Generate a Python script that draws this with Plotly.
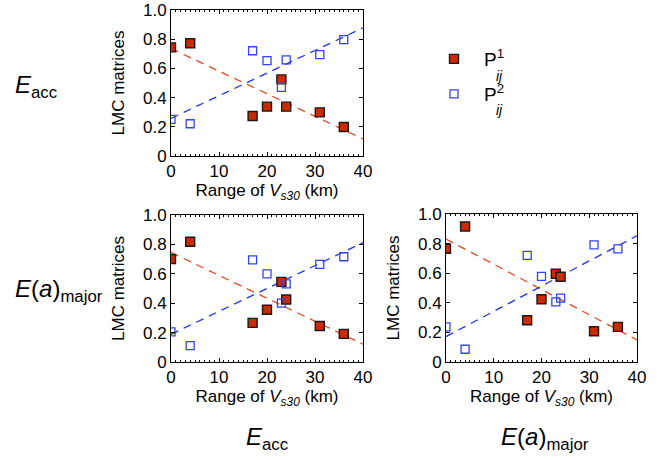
import numpy as np
import plotly.graph_objects as go

# ---- data ----
x_vals = [0, 4, 17, 20, 23, 24, 31, 36]

# top-left: E_acc
p1_tl = [0.744, 0.772, 0.274, 0.338, 0.525, 0.338, 0.299, 0.199]
p2_tl = [0.251, 0.221, 0.721, 0.653, 0.470, 0.658, 0.694, 0.797]
# bottom-left: E(a)_major row, E_acc column
p1_bl = [0.700, 0.818, 0.266, 0.355, 0.545, 0.425, 0.245, 0.191]
p2_bl = [0.205, 0.111, 0.695, 0.600, 0.400, 0.532, 0.664, 0.716]
# bottom-right: E(a)_major row, E(a)_major column
p1_br = [0.765, 0.916, 0.282, 0.424, 0.596, 0.576, 0.208, 0.237]
p2_br = [0.237, 0.086, 0.720, 0.578, 0.406, 0.431, 0.792, 0.765]

x_ticks = [0, 10, 20, 30, 40]
y_ticks = [0, 0.2, 0.4, 0.6, 0.8, 1.0]
y_ticktext = ["0", "0.2", "0.4", "0.6", "0.8", "1.0"]
fit_x = [0, 40]

RED = "#cc2a00"
RED_LINE = "#e24a22"
BLUE = "#3344f2"
BLUE_LINE = "#1f33ee"
FONT = "Liberation Sans, Arial, sans-serif"

fig = go.Figure()

panels = [("x", "y", p1_tl, p2_tl, True),
          ("x2", "y2", p1_bl, p2_bl, False),
          ("x3", "y3", p1_br, p2_br, False)]

for xa, ya, p1, p2, show in panels:
    for yv, col in ((p1, RED_LINE), (p2, BLUE_LINE)):
        k, b = np.polyfit(x_vals, yv, 1)
        fx = np.array(fit_x, dtype=float)
        fig.add_trace(go.Scatter(x=fx, y=k * fx + b, mode="lines", xaxis=xa, yaxis=ya,
                                 line=dict(color=col, width=1.3, dash="8px,6px"),
                                 showlegend=False, hoverinfo="skip"))
    fig.add_trace(go.Scatter(x=x_vals, y=p1, mode="markers", xaxis=xa, yaxis=ya,
                             marker=dict(symbol="square", size=9, color=RED,
                                         line=dict(color="#1a1a1a", width=1.4)),
                             name="P<sup>1</sup>", showlegend=show, legend="legend"))
    fig.add_trace(go.Scatter(x=x_vals, y=p2, mode="markers", xaxis=xa, yaxis=ya,
                             marker=dict(symbol="square-open", size=8, color=BLUE,
                                         line=dict(color=BLUE, width=1.3)),
                             name="P<sup>2</sup>", showlegend=show, legend="legend2"))

W, H = 657, 460
def px_dom(a, b, total, flip=False):
    if flip:
        return [1 - b / total, 1 - a / total]
    return [a / total, b / total]

axis_common = dict(showline=True, linecolor="black", linewidth=1, mirror="ticks",
                   ticks="inside", ticklen=4, tickcolor="black", showgrid=False,
                   zeroline=False, tickfont=dict(family=FONT, size=17, color="black"))

xtitle = dict(text="Range of <i>V</i><sub><i>s30</i></sub> (km)",
              font=dict(family=FONT, size=17, color="black"), standoff=2)
ytitle = dict(text="LMC matrices", font=dict(family=FONT, size=17, color="black"), standoff=14)

leg_common = dict(xanchor="left", yanchor="top",
                  font=dict(family=FONT, size=19, color="black"),
                  bgcolor="rgba(0,0,0,0)", itemwidth=50)
layout = dict(
    width=W, height=H, margin=dict(l=0, r=0, t=0, b=0),
    paper_bgcolor="white", plot_bgcolor="white",
    font=dict(family=FONT, color="black"),
    showlegend=True,
    legend=dict(x=424 / W, y=1 - 40 / H, **leg_common),
    legend2=dict(x=424 / W, y=1 - 75 / H, **leg_common),
)

doms = {
    "": (px_dom(171, 363, W), px_dom(10, 156, H, True)),
    "2": (px_dom(171, 363, W), px_dom(215, 362, H, True)),
    "3": (px_dom(446, 637, W), px_dom(214, 362, H, True)),
}
for s, (xd, yd) in doms.items():
    layout["xaxis" + s] = dict(domain=xd, range=[0, 40], tickvals=x_ticks,
                               minor=dict(dtick=1, ticklen=2, ticks="inside", tickcolor="black"),
                               anchor="y" + s, title=xtitle, automargin=False, **axis_common)
    layout["yaxis" + s] = dict(domain=yd, range=[0, 1], tickvals=y_ticks, ticktext=y_ticktext,
                               anchor="x" + s, title=ytitle, automargin=False, **axis_common)

fig.update_layout(**layout)

# row / column labels
lab_font = dict(family=FONT, size=24, color="black")
fig.add_annotation(text="<i>E</i><sub>acc</sub>", x=13 / W, y=1 - 86 / H, xref="paper", yref="paper",
                   xanchor="left", yanchor="middle", showarrow=False, font=lab_font)
fig.add_annotation(text="<i>E</i>(<i>a</i>)<sub>major</sub>", x=13 / W, y=1 - 290 / H, xref="paper",
                   yref="paper", xanchor="left", yanchor="middle", showarrow=False, font=lab_font)
fig.add_annotation(text="<i>E</i><sub>acc</sub>", x=267 / W, y=1 - 438 / H, xref="paper", yref="paper",
                   xanchor="center", yanchor="middle", showarrow=False, font=lab_font)
fig.add_annotation(text="<i>E</i>(<i>a</i>)<sub>major</sub>", x=545 / W, y=1 - 438 / H, xref="paper",
                   yref="paper", xanchor="center", yanchor="middle", showarrow=False, font=lab_font)

# legend subscripts "ij"
sub_font = dict(family=FONT, size=14, color="black")
for yy in (76, 110):
    fig.add_annotation(text="<i>ij</i>", x=499 / W, y=1 - yy / H, xref="paper", yref="paper",
                       xanchor="center", yanchor="middle", showarrow=False, font=sub_font)

fig.write_html("out.html")
